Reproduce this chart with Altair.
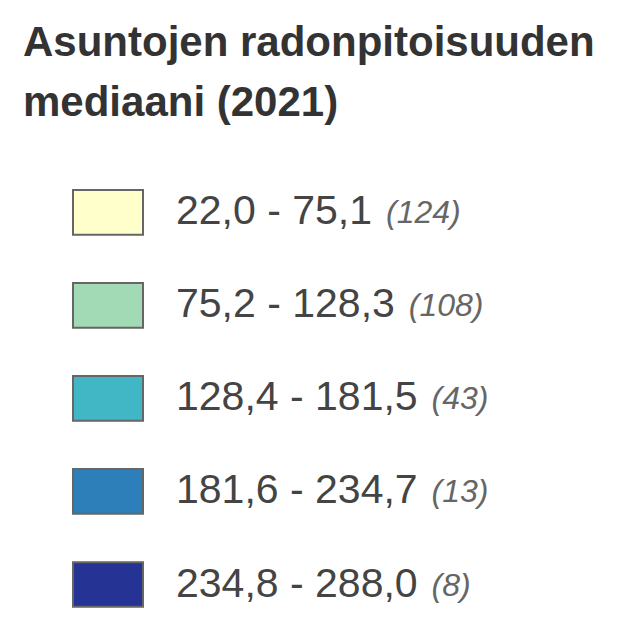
import altair as alt
import pandas as pd

# ---- data ----
title_lines = ["Asuntojen radonpitoisuuden", "mediaani (2021)"]
class_labels = ["22,0 - 75,1", "75,2 - 128,3", "128,4 - 181,5", "181,6 - 234,7", "234,8 - 288,0"]
class_counts = [124, 108, 43, 13, 8]
class_colors = ["#ffffcc", "#a1dab4", "#41b6c4", "#2c7fb8", "#253494"]

# Liberation Sans (Arial metric) advance widths in em, used to place the counts after the labels
char_w = {",": 0.278, " ": 0.278, "-": 0.333}
def em_width(s):
    return sum(char_w.get(c, 0.556) for c in s)

LABEL_SIZE = 41

df = pd.DataFrame({
    "i": list(range(len(class_labels))),
    "label": class_labels,
    "count": [f"({c})" for c in class_counts],
    "color": class_colors,
    "w_em": [em_width(s) for s in class_labels],
})

W, H = 612, 611
LABEL_X = 168

yscale = alt.Scale(domain=[0, 4], range=[204.3, 576.5])

base = alt.Chart(df)

swatches = base.transform_calculate(
    y_lo="datum.i - 0.24", y_hi="datum.i + 0.24"
).mark_rect(stroke="#666666", strokeWidth=2).encode(
    x=alt.value(65),
    x2=alt.value(135),
    y=alt.Y("y_lo:Q", scale=yscale, axis=None),
    y2="y_hi:Q",
    color=alt.Color("color:N", scale=None, legend=None),
)

labels = base.mark_text(
    align="left", baseline="alphabetic", dy=12,
    font="Liberation Sans", fontSize=LABEL_SIZE, color="#444444",
).encode(
    x=alt.value(LABEL_X),
    y=alt.Y("i:Q", scale=yscale, axis=None),
    text="label:N",
)

counts = base.mark_text(
    align="left", baseline="alphabetic", dy=11,
    font="Liberation Sans", fontSize=32, fontStyle="italic", color="#666666",
).encode(
    x=alt.X("w_em:Q", scale=alt.Scale(domain=[0, 10], range=[LABEL_X + 14, LABEL_X + 14 + 10 * LABEL_SIZE]), axis=None),
    y=alt.Y("i:Q", scale=yscale, axis=None),
    text="count:N",
)

title = alt.Chart(pd.DataFrame({"t": [0]})).mark_text(
    align="left", baseline="alphabetic", lineHeight=60,
    font="Liberation Sans", fontSize=42, fontWeight="bold", color="#333333",
    text=title_lines,
).encode(x=alt.value(15), y=alt.value(48))

chart = alt.layer(swatches, labels, counts, title).properties(
    width=W, height=H,
    autosize=alt.AutoSizeParams(type="none"),
    padding=0,
    background="white",
).configure_view(stroke=None)

chart.save("out.html", embed_options={"renderer": "svg", "actions": False})
